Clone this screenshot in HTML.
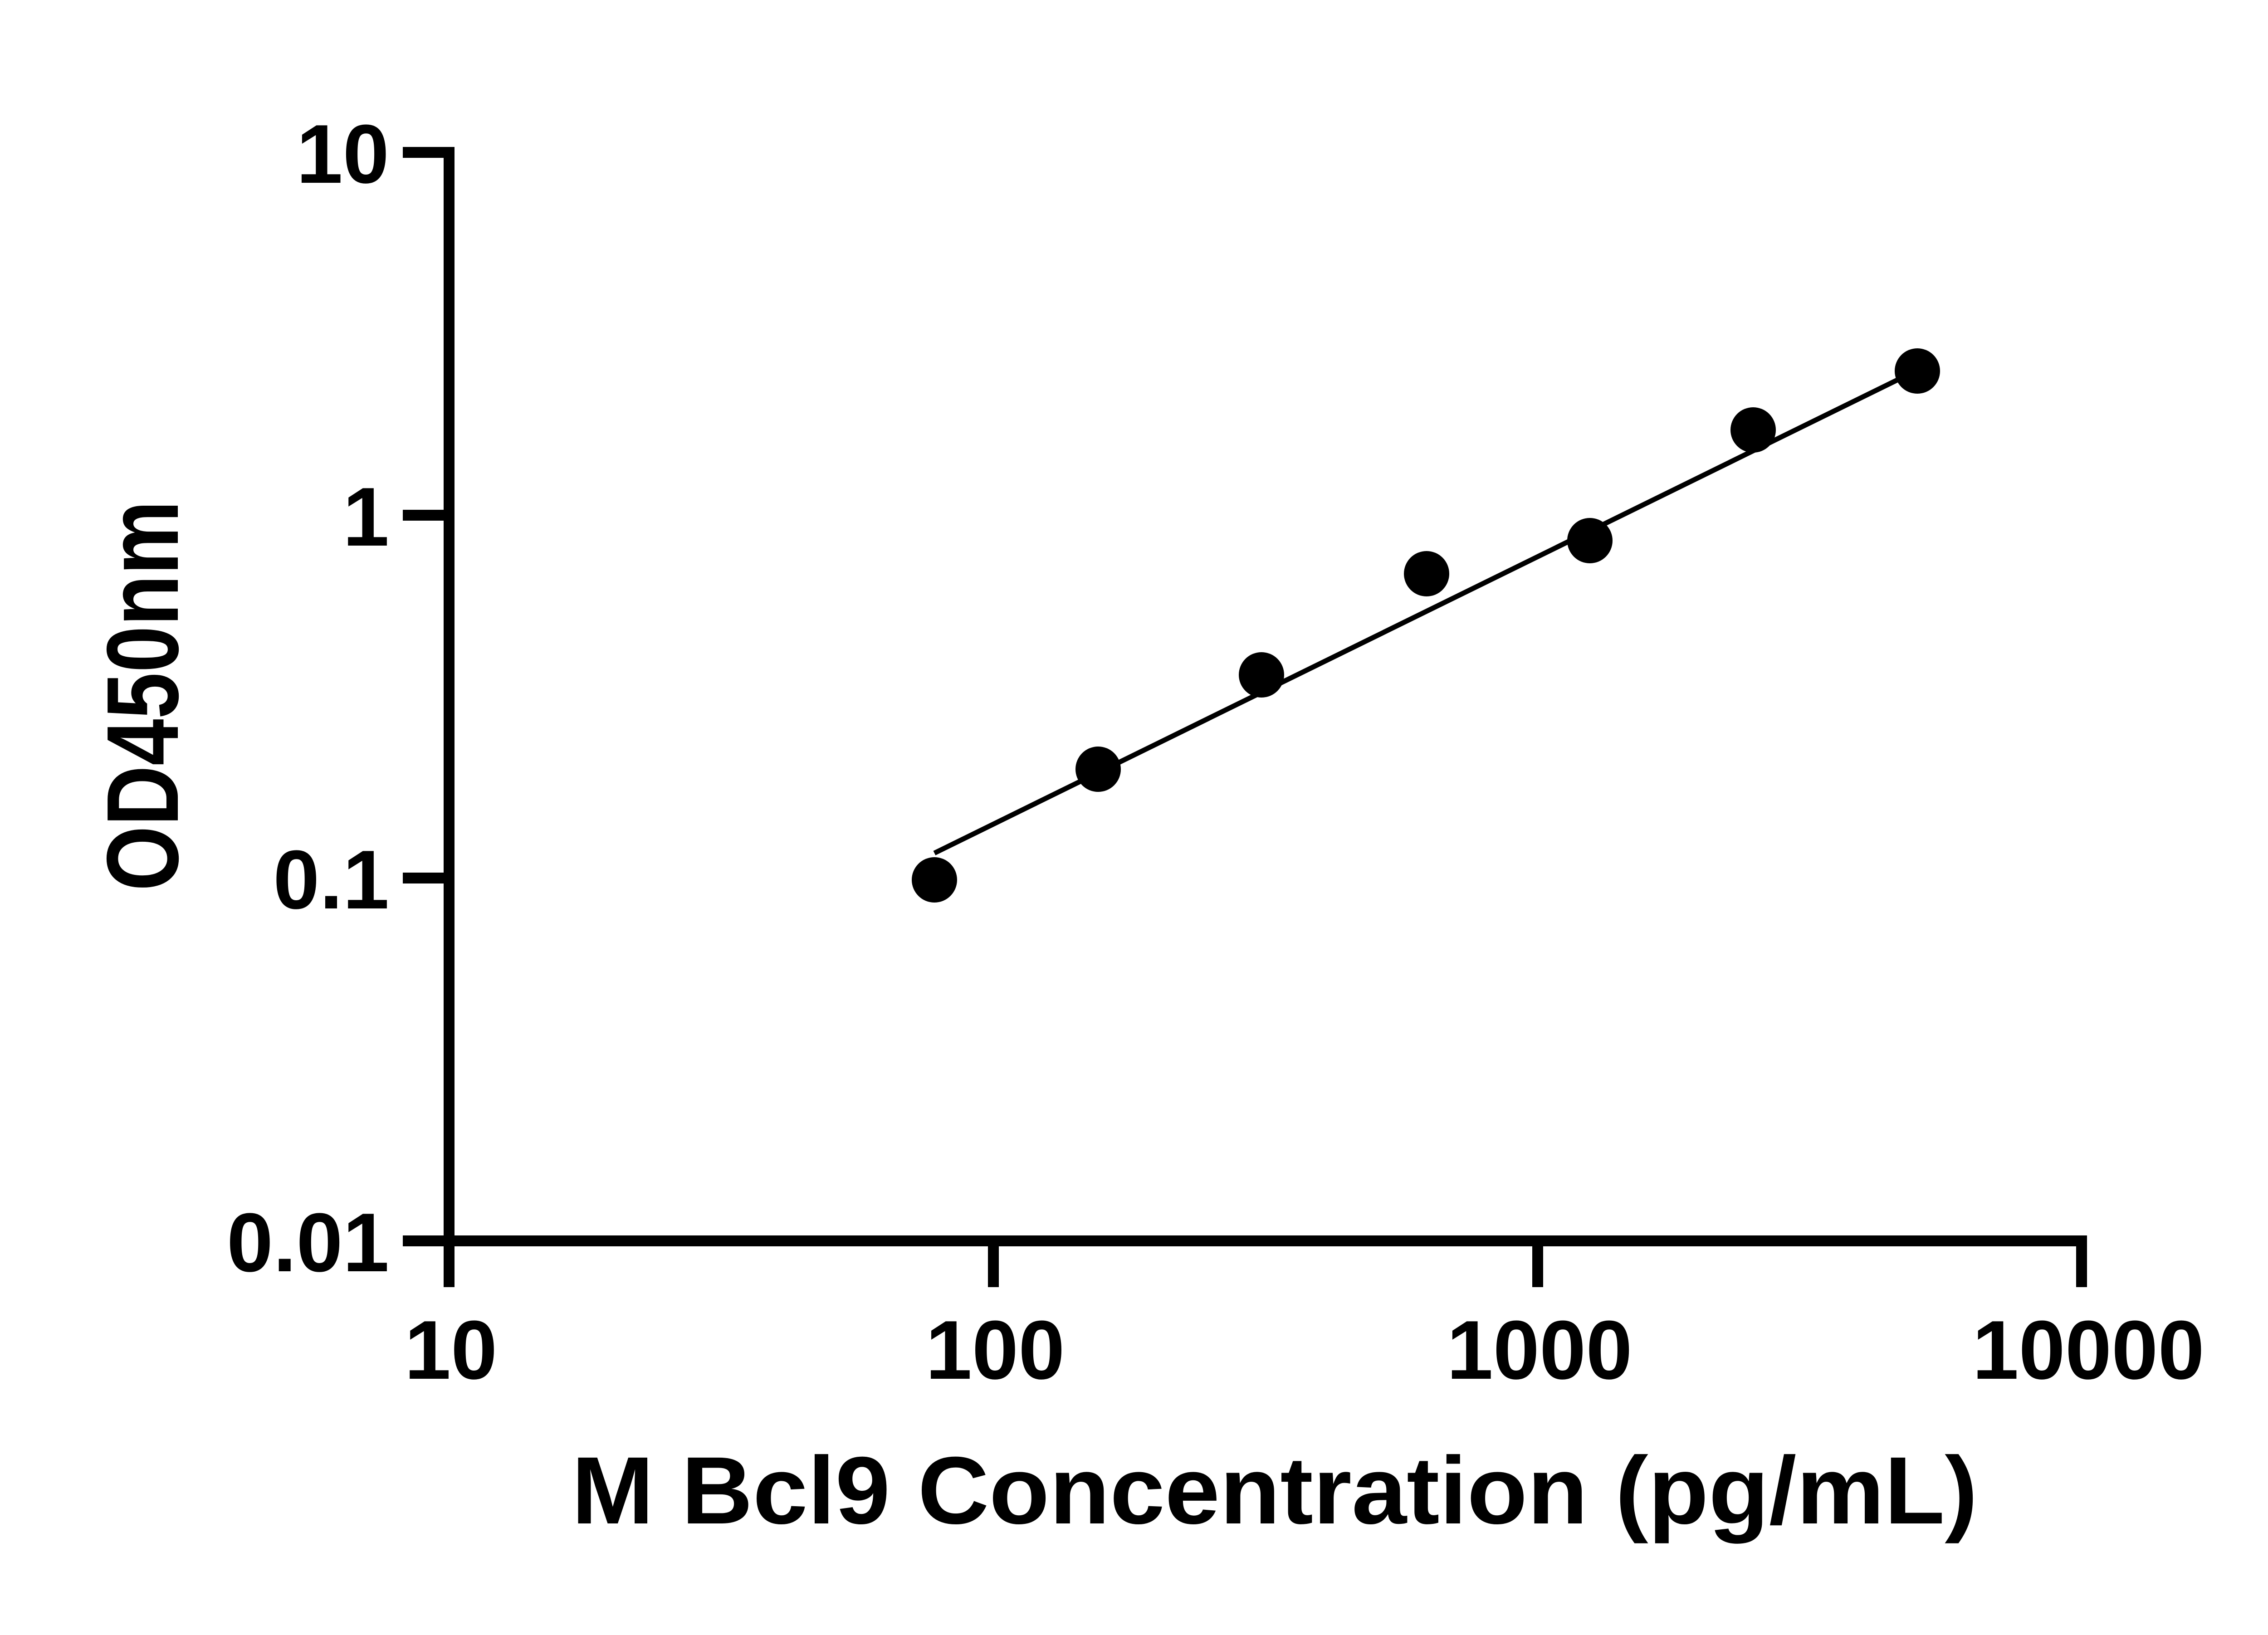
<!DOCTYPE html>
<html><head><style>html,body{margin:0;padding:0;background:#fff;}</style></head>
<body>
<svg width="5142" height="3600" viewBox="0 0 5142 3600" xmlns="http://www.w3.org/2000/svg">
<rect width="5142" height="3600" fill="#fff"/>
<g stroke="#000" stroke-width="24" fill="none" stroke-linecap="butt">
<line x1="990" y1="324" x2="990" y2="2748"/>
<line x1="978" y1="2736" x2="4601" y2="2736"/>
<line x1="888" y1="336" x2="1002" y2="336"/>
<line x1="888" y1="1136" x2="990" y2="1136"/>
<line x1="888" y1="1936" x2="990" y2="1936"/>
<line x1="888" y1="2736" x2="990" y2="2736"/>
<line x1="990" y1="2736" x2="990" y2="2838"/>
<line x1="2190" y1="2736" x2="2190" y2="2838"/>
<line x1="3390" y1="2736" x2="3390" y2="2838"/>
<line x1="4589" y1="2724" x2="4589" y2="2838"/>
</g>
<g font-family="Liberation Sans, sans-serif" font-weight="bold" font-size="184" fill="#000">
<text x="858" y="403" text-anchor="end">10</text>
<text x="858" y="1203" text-anchor="end">1</text>
<text x="858" y="2003" text-anchor="end">0.1</text>
<text x="858" y="2803" text-anchor="end">0.01</text>
<text x="994" y="3040" text-anchor="middle">10</text>
<text x="2194" y="3040" text-anchor="middle">100</text>
<text x="3394" y="3040" text-anchor="middle">1000</text>
<text x="4604" y="3040" text-anchor="middle">10000</text>
</g>
<text x="1260" y="3359" font-family="Liberation Sans, sans-serif" font-weight="bold" font-size="211" textLength="3100" lengthAdjust="spacingAndGlyphs">M Bcl9 Concentration (pg/mL)</text>
<text transform="translate(392,1534) rotate(-90)" x="0" y="0" text-anchor="middle" font-family="Liberation Sans, sans-serif" font-weight="bold" font-size="225" textLength="861" lengthAdjust="spacingAndGlyphs">OD450nm</text>
<line x1="2060" y1="1881" x2="4227" y2="816" stroke="#000" stroke-width="11"/>
<g fill="#000">
<circle cx="2060" cy="1940" r="50"/>
<circle cx="2421" cy="1696" r="50"/>
<circle cx="2781" cy="1488" r="50"/>
<circle cx="3145" cy="1265" r="50"/>
<circle cx="3505" cy="1192" r="50"/>
<circle cx="3865" cy="948" r="50"/>
<circle cx="4227" cy="818" r="50"/>
</g>
</svg>
</body></html>
